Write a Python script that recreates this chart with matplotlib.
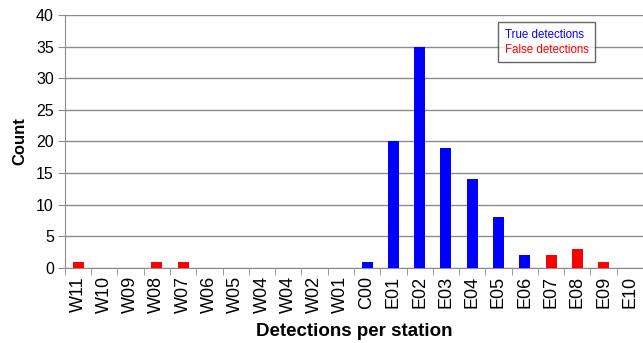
import numpy as np
import matplotlib.pyplot as plt

plt.rcParams['font.family'] = ['Liberation Sans', 'DejaVu Sans']

stations = ["W11", "W10", "W09", "W08", "W07", "W06", "W05", "W04", "W04", "W02", "W01",
            "C00", "E01", "E02", "E03", "E04", "E05", "E06", "E07", "E08", "E09", "E10"]
true_det = [0, 0, 0, 0, 0, 0, 0, 0, 0, 0, 0, 1, 20, 35, 19, 14, 8, 2, 0, 0, 0, 0]
false_det = [1, 0, 0, 1, 1, 0, 0, 0, 0, 0, 0, 0, 0, 0, 0, 0, 0, 0, 2, 3, 1, 0]

grey = "#8c8c8c"

fig = plt.figure(figsize=(6.43, 3.43), dpi=100)
ax = fig.add_axes([0.101, 0.219, 0.899, 0.737])

x = np.arange(len(stations))
ax.bar(x, true_det, width=0.42, color="#0000ff", linewidth=0, zorder=3)
ax.bar(x, false_det, width=0.42, color="#ff0000", linewidth=0, zorder=3)

ax.set_xlim(-0.5, len(stations) - 0.5)
ax.set_ylim(0, 40)
ax.set_yticks(range(0, 41, 5))
ax.yaxis.grid(True, color=grey, linewidth=1)
ax.set_axisbelow(True)

ax.set_xticks(x)
ax.set_xticklabels(stations, rotation=90, fontsize=13)
ax.set_xticks(np.arange(-0.5, len(stations), 1), minor=True)
ax.tick_params(axis="x", which="major", length=0, pad=6)
ax.tick_params(axis="x", which="minor", length=5, color=grey)
ax.tick_params(axis="y", length=5, color=grey, labelsize=11.5, pad=3)

for s in ["top", "right"]:
    ax.spines[s].set_visible(False)
for s in ["left", "bottom"]:
    ax.spines[s].set_color(grey)

ax.set_ylabel("Count", fontsize=12, fontweight="bold", labelpad=6)
ax.set_xlabel("Detections per station", fontsize=13.5, fontweight="bold", labelpad=7)

h1 = plt.Rectangle((0, 0), 0, 0, visible=False)
leg = ax.legend([h1, h1], ["True detections", "False detections"],
                loc="upper left", bbox_to_anchor=(0.75, 0.972),
                borderaxespad=0,
                handlelength=0, handletextpad=0, fontsize=8.3,
                frameon=True, fancybox=False, edgecolor="#404040",
                borderpad=0.55, labelspacing=0.3)
leg.get_frame().set_linewidth(1)
leg.get_texts()[0].set_color("#0000ff")
leg.get_texts()[1].set_color("#ff0000")

fig.savefig("out.png", dpi=100)
